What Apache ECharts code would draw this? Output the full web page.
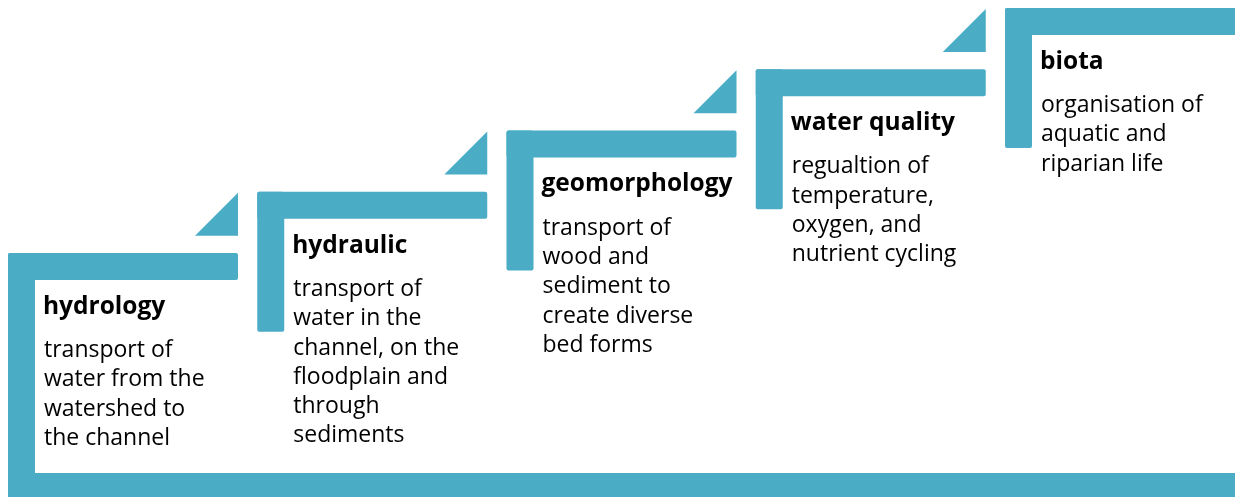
<!DOCTYPE html>
<html>
<head>
<meta charset="utf-8">
<script src="https://cdn.jsdelivr.net/npm/echarts@6/dist/echarts.min.js"></script>
<style>
  html, body { margin: 0; padding: 0; background: #fff; }
  #main { width: 1235px; height: 497px; }
</style>
</head>
<body>
<div id="main"></div>
<script>
// steps of the staircase, lowest first
var levels = [0, 1, 2, 3, 4];
var stepTitles = ['hydrology', 'hydraulic', 'geomorphology', 'water quality', 'biota'];
var stepTexts = [
    'transport of\nwater from the\nwatershed to\nthe channel',
    'transport of\nwater in the\nchannel, on the\nfloodplain and\nthrough\nsediments',
    'transport of\nwood and\nsediment to\ncreate diverse\nbed forms',
    'regualtion of\ntemperature,\noxygen, and\nnutrient cycling',
    'organisation of\naquatic and\nriparian life'
];

var myChart = echarts.init(document.getElementById('main'));
var blue = '#4BACC6';

function renderStep(params, api) {
    var i = params.dataIndex;
    var p = api.coord([api.value(0), api.value(1)]);
    var step = api.size([1, 1]);
    var W = api.getWidth(), H = api.getHeight();
    var last = i === levels.length - 1;
    var barW = last ? W - p[0] + 2 : 230;
    var style = { fill: blue };
    var children = [];

    // horizontal bar
    children.push({ type: 'rect', shape: { x: p[0], y: p[1], width: barW, height: 27, r: 2 }, style: style });
    // vertical bar
    children.push({ type: 'rect', shape: { x: p[0], y: p[1], width: 27, height: i === 0 ? H - p[1] + 2 : 140, r: 2 }, style: style });
    // triangle leading to next step
    if (!last) {
        var top = p[1] - step[1] + 1;
        children.push({
            type: 'polygon',
            shape: { points: [[p[0] + 187, top + 43], [p[0] + 230, top + 43], [p[0] + 230, top]] },
            style: style
        });
    }
    // bottom frame
    if (i === 0) {
        children.push({ type: 'rect', shape: { x: p[0] + 1, y: H - 24, width: W - p[0], height: 25 }, style: style });
    }
    // title
    children.push({
        type: 'text',
        style: {
            x: p[0] + 35, y: p[1] + 54,
            text: stepTitles[i],
            fill: '#000',
            font: 'bold 24.5px "Open Sans"',
            verticalAlign: 'middle'
        }
    });
    // description
    children.push({
        type: 'text',
        style: {
            x: p[0] + 36, y: p[1] + 83,
            text: stepTexts[i],
            fill: '#000',
            font: '23px "Open Sans"',
            lineHeight: 29.3,
            verticalAlign: 'top'
        }
    });
    return { type: 'group', children: children };
}

var option = {
    animation: false,
    grid: { left: 8, right: 230, top: 8, bottom: 244 },
    xAxis: { type: 'value', min: 0, max: 4, show: false },
    yAxis: { type: 'value', min: 0, max: 4, show: false },
    series: [{
        type: 'custom',
        clip: false,
        renderItem: renderStep,
        data: levels.map(function (l) { return [l, l]; })
    }]
};
myChart.setOption(option);
</script>
</body>
</html>
